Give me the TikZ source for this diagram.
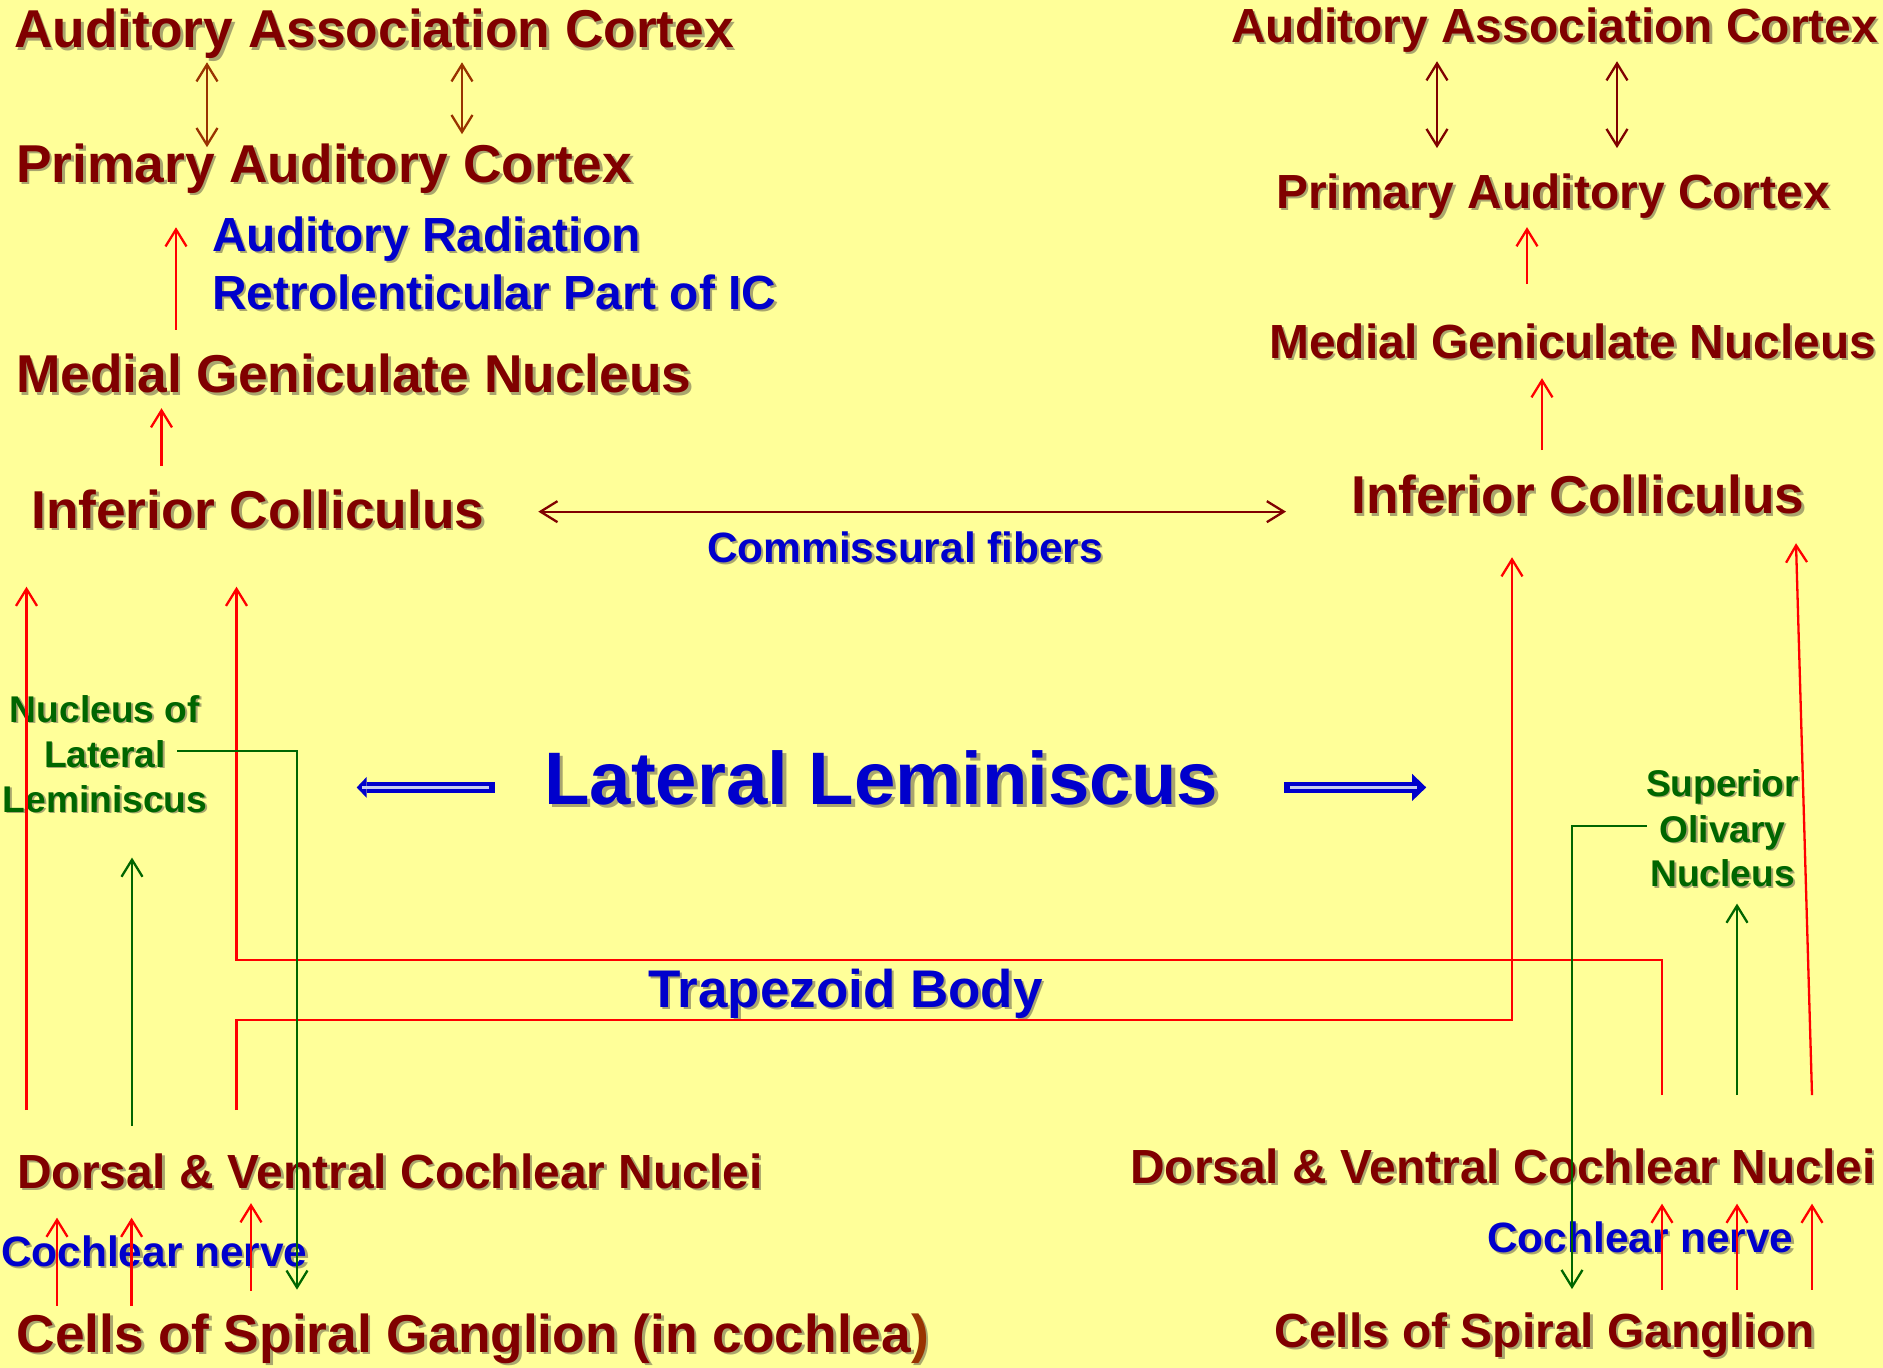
\documentclass[tikz,border=0pt]{standalone}
\usepackage{fontspec}
\setmainfont{Liberation Sans}
\usetikzlibrary{arrows.meta,calc}
\definecolor{bgc}{HTML}{FFFF99}
\definecolor{dred}{HTML}{800000}
\definecolor{brn}{HTML}{993300}
\definecolor{tblue}{HTML}{0000CC}
\definecolor{tgreen}{HTML}{006600}
\definecolor{lred}{HTML}{FF0000}
\definecolor{shc}{HTML}{A9A66E}
\definecolor{stripec}{HTML}{C8CCEE}
\newcommand{\shd}[1]{\leavevmode\rlap{\kern0.05em\smash{\raisebox{-0.05em}{\textcolor{shc}{#1}}}}#1}
\newcommand{\shdc}[2]{\leavevmode\rlap{\kern0.05em\smash{\raisebox{-0.05em}{\textcolor{shc}{#2}}}}\textcolor{#1}{#2}}
\newcommand{\fsz}[1]{\fontsize{#1}{#1}\selectfont\bfseries}
\tikzset{
  lbl/.style={inner sep=0pt, anchor=base west},
  big/.style={lbl, font=\fsz{53.3}, text=dred},
  mid/.style={lbl, font=\fsz{47.9}, text=dred},
  blu/.style={lbl, text=tblue},
  grn/.style={inner sep=0pt, anchor=base, font=\fsz{37.2}, text=tgreen},
  conn/.style={line width=2.3pt},
  arr/.style={conn, -{Straight Barb[length=17pt,width=21pt]}},
  darr/.style={conn, {Straight Barb[length=17pt,width=21pt]}-{Straight Barb[length=17pt,width=21pt]}},
  bigarr/.style={line width=11.5pt, draw=tblue},
  stripe/.style={line width=2.5pt, draw=stripec}
}
\begin{document}
\begin{tikzpicture}[x=1pt,y=-1pt]
\fill[bgc] (0,0) rectangle (1883,1368);
\useasboundingbox (0,0) rectangle (1883,1368);

% ---- left column
\node[big] (aacL) at (14,47.5) {\shd{Auditory Association Cortex}};
\node[big] (pacL) at (16,182) {\shd{Primary Auditory Cortex}};
\node[blu,font=\fsz{47.9}] (radL) at (212,251.5) {\shd{Auditory Radiation}};
\node[blu,font=\fsz{47.9}] (retL) at (212,309) {\shd{Retrolenticular Part of IC}};
\node[big] (mgnL) at (16,392.5) {\shd{Medial Geniculate Nucleus}};
\node[big] (icL) at (31,528) {\shd{Inferior Colliculus}};
\node[blu,font=\fsz{42.4}] (comm) at (707,562) {\shd{Commissural fibers}};
\node[grn] (nll1) at (105,722) {\shd{Nucleus of}};
\node[grn] (nll2) at (105,767) {\shd{Lateral}};
\node[grn] (nll3) at (105,812) {\shd{Leminiscus}};
\node[blu,font=\fsz{74.4}] (ll) at (544,804) {\shd{Lateral Leminiscus}};
\node[blu,font=\fsz{53}] (trap) at (648,1007) {\shd{Trapezoid Body}};
\node[mid] (dvcnL) at (17,1188) {\shd{Dorsal \& Ventral Cochlear Nuclei}};
\node[blu,font=\fsz{42.4}] (cnL) at (1,1266) {\shd{Cochlear nerve}};
\node[big] (cellsL) at (16.5,1352) {\shd{Cells of Spiral Ganglion (in cochlea}\shdc{brn}{)}};

% ---- right column
\node[mid] (aacR) at (1231,42.5) {\shd{Auditory Association Cortex}};
\node[mid] (pacR) at (1276,208) {\shd{Primary Auditory Cortex}};
\node[mid] (mgnR) at (1269,358) {\shd{Medial Geniculate Nucleus}};
\node[big] (icR) at (1351,513.5) {\shd{Inferior Colliculus}};
\node[grn] (son1) at (1722.5,796) {\shd{Superior}};
\node[grn] (son2) at (1722.5,842) {\shd{Olivary}};
\node[grn] (son3) at (1722.5,886.5) {\shd{Nucleus}};
\node[mid] (dvcnR) at (1130,1183) {\shd{Dorsal \& Ventral Cochlear Nuclei}};
\node[blu,font=\fsz{42.4}] (cnR) at (1487,1252) {\shd{Cochlear nerve}};
\node[mid] (cellsR) at (1274.5,1347.5) {\shd{Cells of Spiral Ganglion}};

% ---- connectors, left upper
\draw[darr, brn] ($(207,0 |- aacL.south)+(0,3.5)$) -- ($(207,0 |- pacL.north)+(0,4)$);
\draw[darr, brn] ($(462,0 |- aacL.south)+(0,3.5)$) -- ($(462,0 |- pacL.north)+(0,-9)$);
\draw[arr, lred] ($(176,0 |- mgnL.north)+(0,-24)$) -- ($(176,0 |- pacL.south)+(0,34)$);
\draw[arr, lred] ($(161.5,0 |- icL.north)+(0,-23.5)$) -- ($(161.5,0 |- mgnL.south)+(0,15)$);

% commissural fibers
\draw[darr, dred] ($(icL.east)+(53.8,2.7)$) -- ($(icL.east -| icR.west)+(-65,2.7)$);

% right upper
\draw[darr, dred] ($(1437,0 |- aacR.south)+(0,8.6)$) -- ($(1437,0 |- pacR.north)+(0,-25)$);
\draw[darr, dred] ($(1617,0 |- aacR.south)+(0,8.6)$) -- ($(1617,0 |- pacR.north)+(0,-25)$);
\draw[arr, lred] ($(1527,0 |- mgnR.north)+(0,-39)$) -- ($(1527,0 |- pacR.south)+(0,9)$);
\draw[arr, lred] ($(1542,0 |- icR.north)+(0,-24.5)$) -- ($(1542,0 |- mgnR.south)+(0,19.5)$);

% ascending red pathways
\draw[arr, lred] ($(26.5,0 |- dvcnL.north)+(0,-43)$) -- ($(26.5,0 |- icL.south)+(0,58)$);
\draw[arr, lred] ($(1662,0 |- dvcnR.north)+(0,-53)$) -- ++(0,-135) -| ($(236.5,0 |- icL.south)+(0,58)$);
\draw[arr, lred] ($(236.5,0 |- dvcnL.north)+(0,-43)$) -- ++(0,-90) -| ($(1512,0 |- icR.south)+(0,43)$);
\draw[arr, lred] ($(1812,0 |- dvcnR.north)+(0,-53)$) -- ($(1796,0 |- icR.south)+(0,29)$);

% green pathways
\draw[arr, tgreen] ($(nll2.east)+(11,-3)$) -| ($(297,0 |- cellsL.north)+(0,-23.5)$);
\draw[arr, tgreen] ($(son2.west)+(-12.5,-6.5)$) -| ($(1572,0 |- cellsR.north)+(0,-23.5)$);
\draw[arr, tgreen] ($(132,0 |- dvcnL.north)+(0,-27.5)$) -- ($(132,0 |- nll3.south)+(0,45)$);
\draw[arr, tgreen] ($(1737,0 |- dvcnR.north)+(0,-53)$) -- ($(1737,0 |- son3.south)+(0,16.5)$);

% cochlear nerve arrows
\draw[arr, lred] ($(57,0 |- cellsL.north)+(0,-7.5)$) -- ($(57,0 |- dvcnL.south)+(0,29)$);
\draw[arr, lred] ($(131.6,0 |- cellsL.north)+(0,-7.5)$) -- ($(131.6,0 |- dvcnL.south)+(0,29)$);
\draw[arr, lred] ($(251,0 |- cellsL.north)+(0,-22.5)$) -- ($(251,0 |- dvcnL.south)+(0,14.5)$);
\foreach \xx in {1662,1737,1812}
  \draw[arr, lred] ($(\xx,0 |- cellsR.north)+(0,-23)$) -- ($(\xx,0 |- dvcnR.south)+(0,20)$);

% lateral leminiscus big arrows
\draw[bigarr, -{Triangle[length=10pt,width=21pt,line width=0pt]}] ($(ll.west)+(-49.3,10)$) -- ($(ll.west)+(-187.3,10)$);
\draw[stripe] ($(ll.west)+(-55.3,10)$) -- ($(ll.west)+(-182.3,10)$);
\draw[bigarr, -{Triangle[length=14pt,width=27pt,line width=0pt]}] ($(ll.east)+(65.8,10)$) -- ($(ll.east)+(207.8,10)$);
\draw[stripe] ($(ll.east)+(71.8,10)$) -- ($(ll.east)+(198.8,10)$);
\end{tikzpicture}
\end{document}
